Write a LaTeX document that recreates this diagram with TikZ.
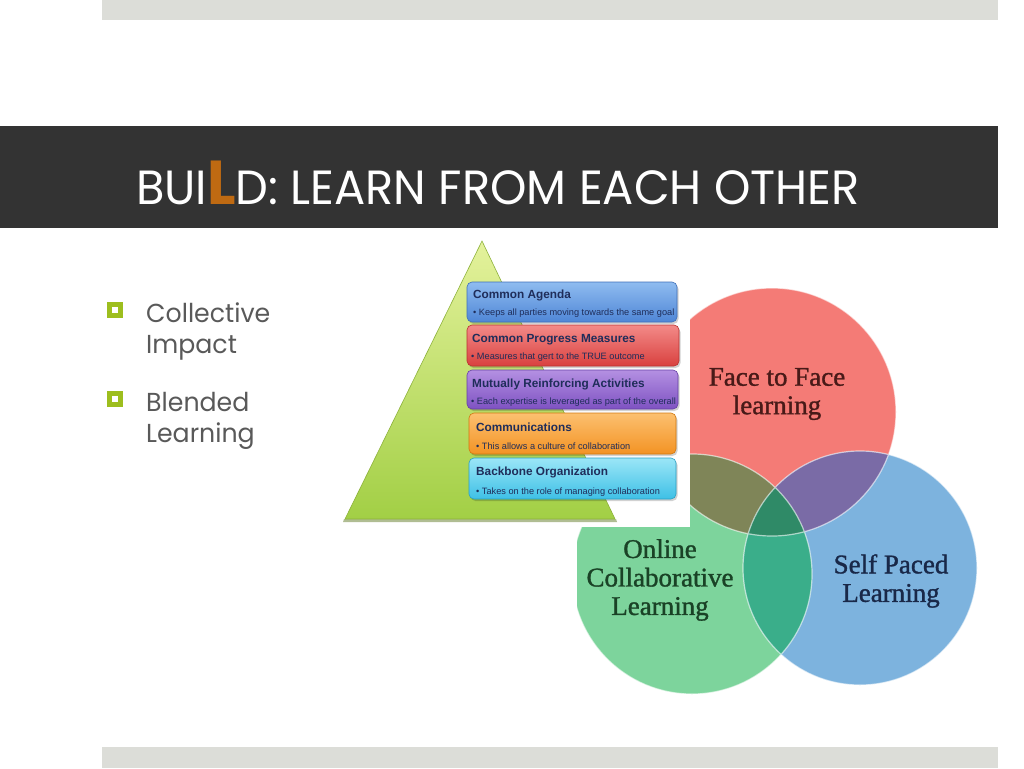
\documentclass[tikz,border=0pt]{standalone}
\usepackage{fontspec}
\usepackage{graphicx}
\newfontfamily\gothic{Poppins}
\newfontfamily\arialf{Liberation Sans}
\newfontfamily\seriff[FakeBold=1.2]{Liberation Serif}
\definecolor{topbar}{HTML}{DCDDD8}
\definecolor{titlebg}{HTML}{333333}
\definecolor{lorange}{HTML}{BF6A12}
\definecolor{bodygray}{HTML}{595959}
\definecolor{bulletgreen}{HTML}{9DBE1E}
\definecolor{vred}{HTML}{F47B76}
\definecolor{vgreen}{HTML}{7DD49C}
\definecolor{vblue}{HTML}{7DB3DE}
\definecolor{vrg}{HTML}{7F8558}
\definecolor{vrb}{HTML}{7A6BA6}
\definecolor{vgb}{HTML}{3AAE8A}
\definecolor{vrgb}{HTML}{2F8A67}
\definecolor{navy}{HTML}{1F2D5A}
\definecolor{trilight}{HTML}{E4F29C}
\definecolor{tridark}{HTML}{A2CF45}
\definecolor{triedge}{HTML}{8DB23A}
\tikzset{
  boxbase/.style={rounded corners=5pt, line width=0.6pt},
  boxtitle/.style={anchor=base west, inner sep=0pt, text=navy, font=\arialf\bfseries\fontsize{11.8}{13}\selectfont},
  boxsub/.style={anchor=base west, inner sep=0pt, text=navy, font=\arialf\fontsize{9.2}{10}\selectfont},
  venntext/.style={align=center, inner sep=0pt, font=\seriff\fontsize{27}{28.5}\selectfont},
  bodytext/.style={anchor=base west, inner sep=0pt, align=left, text=bodygray, font=\gothic\fontsize{26}{31}\selectfont},
  bulletsq/.style={fill=bulletgreen, minimum size=16pt, inner sep=0pt},
}
\begin{document}
\begin{tikzpicture}[x=1pt, y=-1pt]
\useasboundingbox (0,0) rectangle (1024,768);
% bars
\fill[topbar] (102,0) rectangle (998,20);
\fill[topbar] (102,747) rectangle (998,768);
\fill[titlebg] (0,126) rectangle (998,228);
\node[anchor=base west, inner sep=0pt, text=white, font=\gothic\fontsize{48}{50}\selectfont] (title) at (136,204)
  {\scalebox{0.965}[1]{BUI\textcolor{lorange}{\fontsize{62}{62}\selectfont\bfseries L}D: LEARN FROM EACH OTHER}};
% Venn
\coordinate (cR) at (772,412);
\coordinate (cG) at (692,574);
\coordinate (cB) at (860,568);
\begin{scope}
\clip (577,280) rectangle (990,712);
\fill[vred] (cR) circle[radius=124pt];
\fill[vgreen] (cG) circle[radius=120pt];
\fill[vblue] (cB) circle[radius=117pt];
\begin{scope}\clip (cR) circle[radius=124pt]; \fill[vrg] (cG) circle[radius=120pt]; \fill[vrb] (cB) circle[radius=117pt]; \end{scope}
\begin{scope}\clip (cG) circle[radius=120pt]; \fill[vgb] (cB) circle[radius=117pt]; \end{scope}
\begin{scope}\clip (cR) circle[radius=124pt]; \clip (cG) circle[radius=120pt]; \fill[vrgb] (cB) circle[radius=117pt]; \end{scope}
\draw[white, opacity=0.6, line width=1.2pt] (cR) circle[radius=124pt] (cG) circle[radius=120pt] (cB) circle[radius=117pt];
\end{scope}
\node[venntext, text={rgb,255:red,72;green,26;blue,24}] (f2f) at (777,394) {Face to Face\\learning};
\node[venntext, text={rgb,255:red,26;green,66;blue,38}] (ocl) at (660,580) {Online\\Collaborative\\Learning};
\node[venntext, text={rgb,255:red,25;green,40;blue,72}] (spl) at (891,581) {Self Paced\\Learning};
% pyramid picture
\fill[white] (338,234) rectangle (690,527);
\fill[triedge!70!black, opacity=0.5] (344,519) -- (616,519) -- (617,522) -- (343,522) -- cycle;
\shade[top color=trilight, bottom color=tridark, draw=triedge, line width=0.6pt] (482,241) -- (615,519) -- (345,519) -- cycle;
% boxes
\foreach \y/\h/\xl/\xr/\ct/\cb/\cd/\nm in {
  282/40/467/677/8FBCF0/4F86D6/3F6FB8/b1,
  325/41/467/679/F38A88/D9413F/B83230/b2,
  370/39/467/678/B490E2/7E52C2/6640A5/b3,
  413/41/469/676/FCC070/F39324/D07810/b4,
  458/41/469/676/9BE6F7/3EC0E6/2AA0C4/b5}{
  \definecolor{ctop}{HTML}{\ct}\definecolor{cbot}{HTML}{\cb}\definecolor{cedge}{HTML}{\cd}
  \fill[black, opacity=0.18, rounded corners=5pt] (\xl+1.5,\y+2) rectangle (\xr+1.5,\y+\h+2);
  \shade[boxbase, top color=ctop, bottom color=cbot, draw=cedge] (\xl,\y) rectangle (\xr,\y+\h);
}
\node[boxtitle] (t1) at (473,298) {Common Agenda};
\node[boxsub] (s1) at (473,315) {• Keeps all parties moving towards the same goal};
\node[boxtitle] (t2) at (472,342) {Common Progress Measures};
\node[boxsub] (s2) at (471,359) {• Measures that gert to the TRUE outcome};
\node[boxtitle] (t3) at (472,387) {Mutually Reinforcing Activities};
\node[boxsub] (s3) at (471,404) {• Each expertise is leveraged as part of the overall};
\node[boxtitle] (t4) at (476,431) {Communications};
\node[boxsub] (s4) at (476,449) {• This allows a culture of collaboration};
\node[boxtitle] (t5) at (476,475) {Backbone Organization};
\node[boxsub] (s5) at (476,494) {• Takes on the role of managing collaboration};
% bullets
\node[bulletsq] (bul1) at (115,310) {};
\fill[white] (112,307) rectangle (118,313);
\node[bulletsq] (bul2) at (115,399) {};
\fill[white] (112,396) rectangle (118,402);
\node[bodytext] (item1) at (146,353) {\scalebox{0.97}[1]{Collective}\\\scalebox{0.97}[1]{Impact}};
\node[bodytext] (item2) at (146,442) {\scalebox{0.97}[1]{Blended}\\\scalebox{0.97}[1]{Learning}};
\end{tikzpicture}
\end{document}
